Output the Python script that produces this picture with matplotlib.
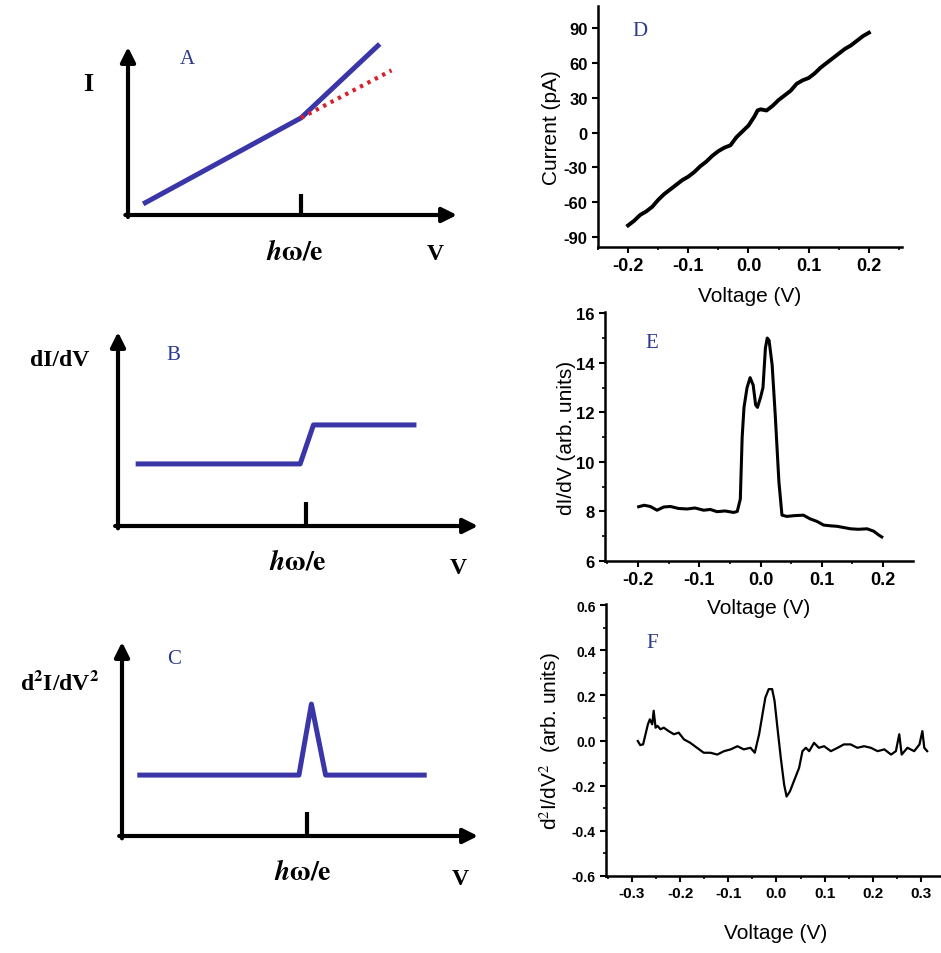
import numpy as np
import matplotlib.pyplot as plt
from matplotlib.ticker import MultipleLocator

plt.rcParams['mathtext.fontset'] = 'stix'
plt.rcParams['axes.unicode_minus'] = False
plt.rcParams['font.family'] = 'Liberation Sans'

W, H = 941, 954
BLUE = '#3a36a8'
RED = '#d8202c'
LETTER = '#2b3a8c'

# --- schematic panels (arbitrary units, 0..1 along each axis) ---
a_v = [0.046, 0.526, 0.765]
a_i = [0.066, 0.578, 1.018]
a_lin_v = [0.526, 0.801]
a_lin_i = [0.578, 0.861]

b_v = [0.049, 0.506, 0.543, 0.829]
b_g = [0.320, 0.320, 0.521, 0.521]

c_v = [0.043, 0.497, 0.532, 0.572, 0.856]
c_g = [0.314, 0.314, 0.680, 0.314, 0.314]

# --- measured panels ---
d_v = [-0.200, -0.190, -0.180, -0.170, -0.160, -0.150, -0.140, -0.130, -0.120, -0.110,
       -0.100, -0.090, -0.080, -0.070, -0.060, -0.050, -0.040, -0.030, -0.020, -0.010,
       0.000, 0.010, 0.015, 0.020, 0.030, 0.040, 0.050, 0.060, 0.070, 0.080,
       0.090, 0.100, 0.110, 0.120, 0.130, 0.140, 0.150, 0.160, 0.170, 0.180,
       0.190, 0.200]
d_i = [-80, -76, -71, -68, -64, -58, -53, -49, -45, -41,
       -38, -34, -29, -25, -20, -16, -13, -11, -4, 1,
       6, 14, 19, 20, 19, 23, 28, 32, 36, 42,
       45, 47, 51, 56, 60, 64, 68, 72, 75, 79,
       83, 86]

e_v = [-0.199, -0.190, -0.180, -0.169, -0.158, -0.147, -0.134, -0.120, -0.107, -0.093,
       -0.082, -0.071, -0.058, -0.044, -0.038, -0.033, -0.030, -0.027, -0.022, -0.017,
       -0.012, -0.008, -0.005, 0.000, 0.004, 0.008, 0.011, 0.014, 0.019, 0.024,
       0.030, 0.035, 0.043, 0.055, 0.070, 0.081, 0.092, 0.103, 0.114, 0.125,
       0.136, 0.147, 0.160, 0.174, 0.185, 0.193, 0.198]
e_g = [8.19, 8.25, 8.20, 8.05, 8.18, 8.20, 8.12, 8.10, 8.14, 8.05,
       8.08, 7.99, 8.02, 7.96, 8.00, 8.50, 11.0, 12.2, 13.0, 13.4,
       13.1, 12.3, 12.2, 12.6, 13.0, 14.6, 15.0, 14.9, 13.9, 11.9,
       9.2, 7.85, 7.80, 7.83, 7.85, 7.70, 7.60, 7.45, 7.42, 7.40,
       7.35, 7.30, 7.28, 7.30, 7.20, 7.05, 6.97]

f_v = [-0.288, -0.283, -0.277, -0.272, -0.267, -0.263, -0.258, -0.255, -0.251, -0.247,
       -0.241, -0.234, -0.224, -0.213, -0.203, -0.192, -0.179, -0.165, -0.151, -0.137,
       -0.123, -0.109, -0.095, -0.081, -0.068, -0.054, -0.045, -0.041, -0.036, -0.029,
       -0.023, -0.016, -0.009, -0.004, 0.002, 0.009, 0.016, 0.021, 0.028, 0.036,
       0.047, 0.054, 0.061, 0.068, 0.078, 0.088, 0.099, 0.113, 0.127, 0.140,
       0.154, 0.168, 0.182, 0.196, 0.210, 0.224, 0.238, 0.248, 0.255, 0.260,
       0.272, 0.286, 0.297, 0.303, 0.307, 0.313]
f_g = [-0.002, -0.020, -0.017, 0.027, 0.072, 0.094, 0.072, 0.132, 0.057, 0.065,
       0.050, 0.057, 0.042, 0.028, 0.035, 0.005, -0.010, -0.032, -0.054, -0.054,
       -0.062, -0.047, -0.039, -0.025, -0.039, -0.032, -0.054, -0.017, 0.028, 0.117,
       0.191, 0.228, 0.228, 0.176, 0.057, -0.077, -0.196, -0.248, -0.225, -0.181,
       -0.121, -0.047, -0.032, -0.047, -0.010, -0.032, -0.025, -0.047, -0.032, -0.017,
       -0.017, -0.032, -0.025, -0.032, -0.047, -0.039, -0.062, -0.047, 0.028, -0.062,
       -0.032, -0.047, -0.017, 0.042, -0.032, -0.047]


def rect(l, r, t, b):
    return [l / W, 1 - b / H, (r - l) / W, (b - t) / H]


def ftext(x, y, s, **kw):
    fig.text(x / W, 1 - y / H, s, ha='center', va='center', **kw)


fig = plt.figure(figsize=(W / 100, H / 100), dpi=100)

serif = 'Liberation Serif'


def schematic(box, v, g, tick_x, tick_h):
    ax = fig.add_axes(box)
    ax.set_xlim(0, 1)
    ax.set_ylim(0, 1)
    ax.axis('off')
    ax.annotate('', xy=(1.0, 0), xytext=(-0.008, 0), xycoords='axes fraction',
                arrowprops=dict(arrowstyle='-|>', lw=3, color='k', mutation_scale=22,
                                shrinkA=0, shrinkB=0))
    ax.annotate('', xy=(0, 1.0), xytext=(0, -0.012), xycoords='axes fraction',
                arrowprops=dict(arrowstyle='-|>', lw=3, color='k', mutation_scale=22,
                                shrinkA=0, shrinkB=0))
    ax.plot([tick_x, tick_x], [0, tick_h], color='k', lw=3, solid_capstyle='butt')
    ax.plot(v, g, color=BLUE, lw=3.6, clip_on=False, solid_capstyle='butt')
    return ax


axA = schematic(rect(128, 457, 48, 216), a_v, a_i, 0.526, 0.127)
axA.plot(a_lin_v, a_lin_i, color=RED, lw=3, ls=(0, (0.8, 1.2)), clip_on=False)
axB = schematic(rect(118, 478, 333, 527), b_v, b_g, 0.522, 0.124)
axC = schematic(rect(122, 478, 643, 837), c_v, c_g, 0.519, 0.124)

hw = r'$\mathbfit{h}\mathbf{\omega/e}$'
for (x, y) in [(295, 253), (298, 563), (303, 873)]:
    ftext(x, y, hw, fontsize=20)
for (x, y) in [(435, 255), (458, 569), (460, 880)]:
    ftext(x, y, 'V', fontsize=17, family=serif, fontweight='bold')
ftext(88, 85, 'I', fontsize=19, family=serif, fontweight='bold')
ftext(60, 360, 'dI/dV', fontsize=17, family=serif, fontweight='bold')
ftext(60, 683, r'd$^{\mathbf{2}}$I/dV$^{\mathbf{2}}$', fontsize=17, family=serif, fontweight='bold')
for (x, y, s) in [(187, 60, 'A'), (173, 356, 'B'), (174, 660, 'C'),
                  (640, 32, 'D'), (652, 343, 'E'), (652, 643, 'F')]:
    ftext(x, y, s, fontsize=15, family=serif, color=LETTER)


def style(ax, tick_fs_x, tick_fs_y):
    ax.patch.set_alpha(0)
    for s in ['top', 'right']:
        ax.spines[s].set_visible(False)
    for s in ['left', 'bottom']:
        ax.spines[s].set_linewidth(1.8)
    ax.tick_params(which='major', direction='out', length=4, width=1.5)
    ax.tick_params(which='minor', direction='out', length=2.5, width=1.2)
    ax.tick_params(axis='x', labelsize=tick_fs_x)
    ax.tick_params(axis='y', labelsize=tick_fs_y)


# D
axD = fig.add_axes(rect(598, 902, 7, 248))
axD.plot(d_v, d_i, color='k', lw=2.8)
axD.set_xlim(-0.25, 0.255)
axD.set_ylim(-98.6, 109)
axD.set_xticks([-0.2, -0.1, 0.0, 0.1, 0.2])
axD.set_yticks([-90, -60, -30, 0, 30, 60, 90])
axD.xaxis.set_minor_locator(MultipleLocator(0.05))
style(axD, 13, 12)
axD.set_xlabel('Voltage (V)', fontsize=15, labelpad=8)
axD.set_ylabel('Current (pA)', fontsize=15, labelpad=2)

# E
axE = fig.add_axes(rect(605, 913, 313, 562))
axE.plot(e_v, e_g, color='k', lw=2.2)
axE.set_xlim(-0.254, 0.249)
axE.set_ylim(6, 16.05)
axE.set_xticks([-0.2, -0.1, 0.0, 0.1, 0.2])
axE.set_yticks([6, 8, 10, 12, 14, 16])
axE.xaxis.set_minor_locator(MultipleLocator(0.05))
axE.yaxis.set_minor_locator(MultipleLocator(1))
style(axE, 13, 12)
axE.set_xlabel('Voltage (V)', fontsize=15, labelpad=7)
axE.set_ylabel('dI/dV (arb. units)', fontsize=15, labelpad=0)

# F
axF = fig.add_axes(rect(606, 945, 605, 877))
axF.plot(f_v, f_g, color='k', lw=1.6)
axF.set_xlim(-0.354, 0.35)
axF.set_ylim(-0.6, 0.605)
axF.set_xticks([-0.3, -0.2, -0.1, 0.0, 0.1, 0.2, 0.3])
axF.set_yticks([-0.6, -0.4, -0.2, 0.0, 0.2, 0.4, 0.6])
axF.xaxis.set_minor_locator(MultipleLocator(0.05))
axF.yaxis.set_minor_locator(MultipleLocator(0.1))
axF.yaxis.set_major_formatter(plt.FormatStrFormatter('%.1f'))
style(axF, 11, 10)
axF.set_xlabel('Voltage (V)', fontsize=15, labelpad=16)
axF.set_ylabel(r'd$^2$I/dV$^2$  (arb. units)', fontsize=15, labelpad=6)

for ax in [axD, axE, axF]:
    plt.setp(ax.get_xticklabels() + ax.get_yticklabels(), fontweight='bold')

fig.savefig('out.png', dpi=100)
